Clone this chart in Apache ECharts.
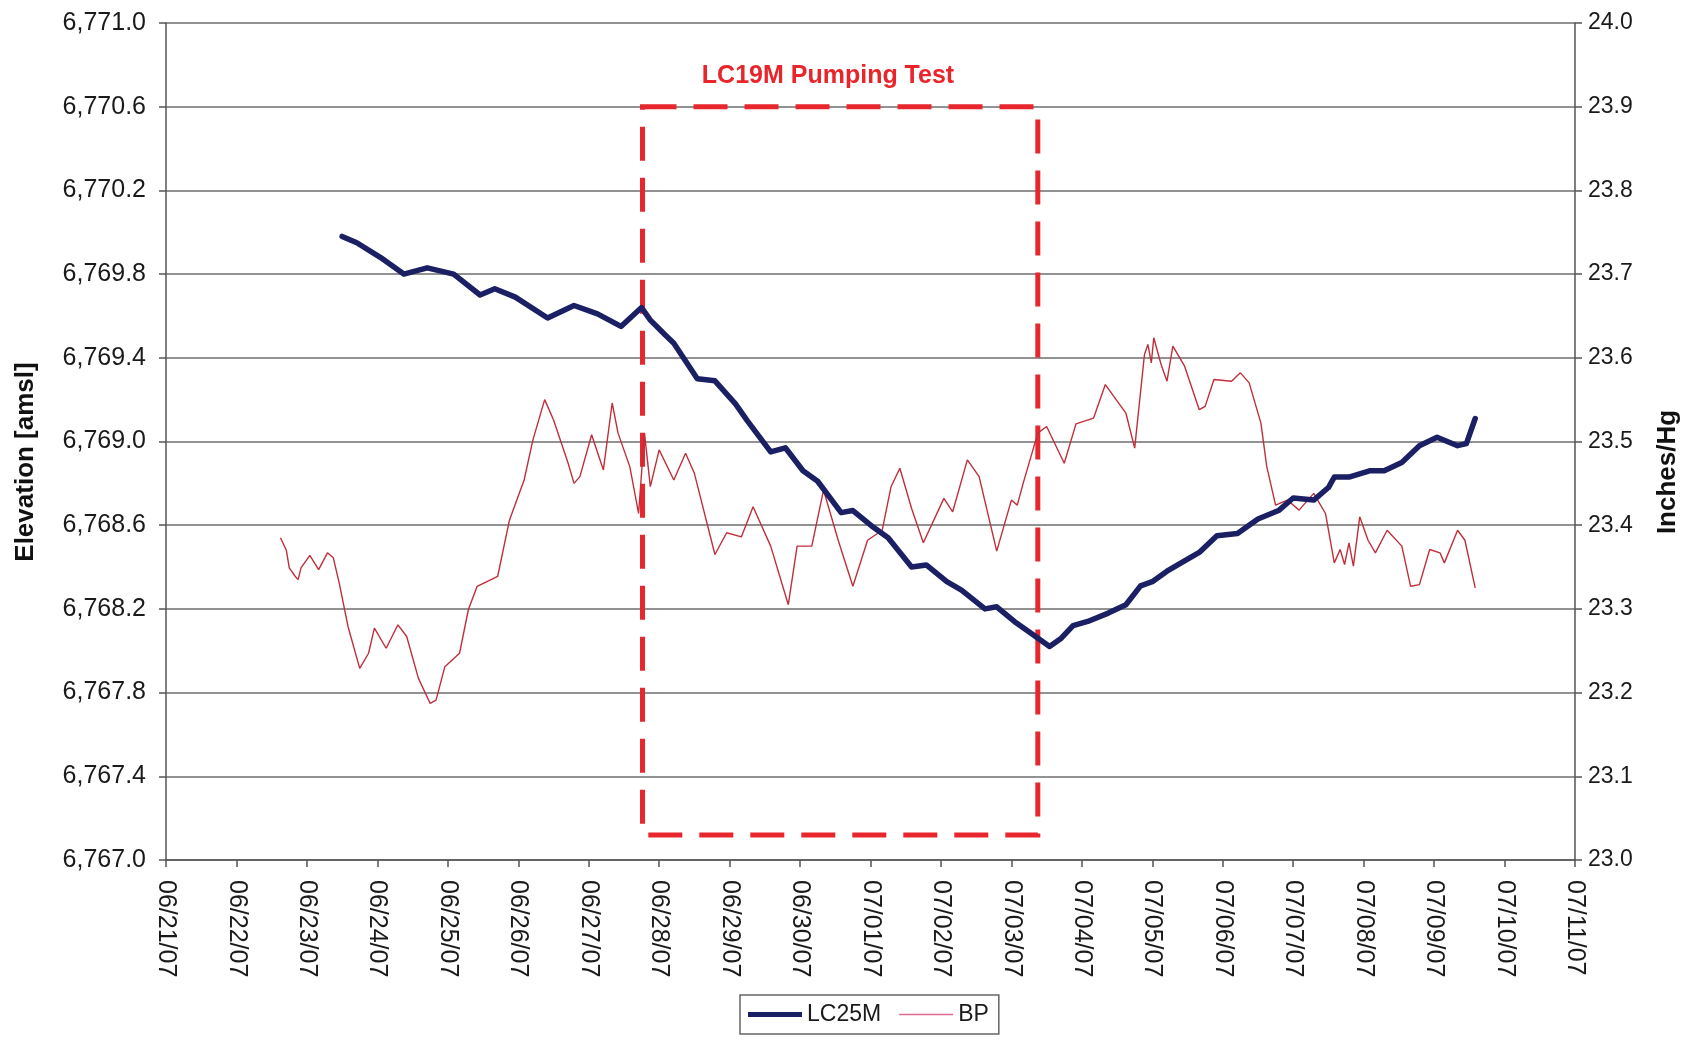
<!DOCTYPE html>
<html>
<head>
<meta charset="utf-8">
<title>LC25M and BP</title>
<script src="https://cdn.jsdelivr.net/npm/echarts@6/dist/echarts.min.js"></script>
<style>
  html, body { margin: 0; padding: 0; background: #fff; }
  #chart { width: 1684px; height: 1045px; }
</style>
</head>
<body>
<div id="chart"></div>
<script>
// LC25M water level elevation (ft amsl)
const lc25mTime = [
  '06/23 12:00', '06/23 17:00', '06/24 01:00', '06/24 09:00', '06/24 17:00',
  '06/25 02:00', '06/25 11:00', '06/25 16:00', '06/25 23:00', '06/26 10:00',
  '06/26 19:00', '06/27 03:00', '06/27 11:00', '06/27 18:00', '06/27 21:00',
  '06/28 02:00', '06/28 05:00', '06/28 13:00', '06/28 19:00', '06/29 02:00',
  '06/29 06:00', '06/29 14:00', '06/29 19:00', '06/30 01:00', '06/30 06:00',
  '06/30 14:00', '06/30 18:00', '07/01 01:00', '07/01 06:00', '07/01 14:00',
  '07/01 19:00', '07/02 02:00', '07/02 07:00', '07/02 15:00', '07/02 19:00',
  '07/03 01:00', '07/03 08:00', '07/03 13:00', '07/03 17:00', '07/03 21:00',
  '07/04 02:00', '07/04 09:00', '07/04 15:00', '07/04 20:00', '07/05 00:00',
  '07/05 05:00', '07/05 11:00', '07/05 16:00', '07/05 22:00', '07/06 05:00',
  '07/06 12:00', '07/06 19:00', '07/07 00:00', '07/07 07:00', '07/07 12:00',
  '07/07 14:00', '07/07 19:00', '07/08 02:00', '07/08 07:00', '07/08 13:00',
  '07/08 19:00', '07/09 01:00', '07/09 08:00', '07/09 11:00', '07/09 14:00'
];
const lc25mLevel = [
  6769.98, 6769.95, 6769.88, 6769.80, 6769.83,
  6769.80, 6769.70, 6769.73, 6769.69, 6769.59,
  6769.65, 6769.61, 6769.55, 6769.64, 6769.58,
  6769.51, 6769.47, 6769.30, 6769.29, 6769.18,
  6769.10, 6768.95, 6768.97, 6768.86, 6768.81,
  6768.66, 6768.67, 6768.59, 6768.54, 6768.40,
  6768.41, 6768.33, 6768.29, 6768.20, 6768.21,
  6768.14, 6768.07, 6768.02, 6768.06, 6768.12,
  6768.14, 6768.18, 6768.22, 6768.31, 6768.33,
  6768.38, 6768.43, 6768.47, 6768.55, 6768.56,
  6768.63, 6768.67, 6768.73, 6768.72, 6768.78,
  6768.83, 6768.83, 6768.86, 6768.86, 6768.90,
  6768.98, 6769.02, 6768.98, 6768.99, 6769.11
];

// barometric pressure (inches Hg)
const bpTime = [
  '06/22 15:00', '06/22 17:00', '06/22 18:00', '06/22 20:00', '06/22 21:00',
  '06/22 22:00', '06/23 01:00', '06/23 04:00', '06/23 07:00', '06/23 09:00',
  '06/23 11:00', '06/23 14:00', '06/23 18:00', '06/23 21:00', '06/23 23:00',
  '06/24 03:00', '06/24 07:00', '06/24 10:00', '06/24 14:00', '06/24 18:00',
  '06/24 20:00', '06/24 23:00', '06/25 04:00', '06/25 07:00', '06/25 10:00',
  '06/25 17:00', '06/25 21:00', '06/26 02:00', '06/26 05:00', '06/26 09:00',
  '06/26 12:00', '06/26 17:00', '06/26 19:00', '06/26 21:00', '06/27 01:00',
  '06/27 05:00', '06/27 08:00', '06/27 10:00', '06/27 14:00', '06/27 17:00',
  '06/27 19:00', '06/27 21:00', '06/28 00:00', '06/28 05:00', '06/28 09:00',
  '06/28 12:00', '06/28 19:00', '06/28 23:00', '06/29 04:00', '06/29 08:00',
  '06/29 14:00', '06/29 20:00', '06/29 23:00', '06/30 04:00', '06/30 08:00',
  '06/30 13:00', '06/30 18:00', '06/30 23:00', '07/01 04:00', '07/01 07:00',
  '07/01 10:00', '07/01 14:00', '07/01 18:00', '07/02 01:00', '07/02 04:00',
  '07/02 09:00', '07/02 13:00', '07/02 19:00', '07/03 00:00', '07/03 02:00',
  '07/03 04:00', '07/03 09:00', '07/03 12:00', '07/03 18:00', '07/03 22:00',
  '07/04 04:00', '07/04 08:00', '07/04 15:00', '07/04 18:00', '07/04 21:20',
  '07/04 22:30', '07/04 23:40', '07/05 00:30', '07/05 03:00', '07/05 05:00',
  '07/05 07:00', '07/05 11:00', '07/05 16:00', '07/05 18:00', '07/05 21:00',
  '07/06 03:00', '07/06 06:00', '07/06 09:00', '07/06 13:00', '07/06 15:00',
  '07/06 18:00', '07/06 22:00', '07/07 02:00', '07/07 07:00', '07/07 11:00',
  '07/07 14:00', '07/07 16:00', '07/07 17:30', '07/07 19:00', '07/07 20:30',
  '07/07 22:40', '07/08 01:30', '07/08 04:00', '07/08 08:00', '07/08 13:00',
  '07/08 16:00', '07/08 19:00', '07/08 22:30', '07/09 02:00', '07/09 03:30',
  '07/09 08:00', '07/09 10:30', '07/09 14:00'
];
const bpPressure = [
  23.385, 23.370, 23.349, 23.339, 23.335,
  23.349, 23.364, 23.347, 23.367, 23.361,
  23.331, 23.279, 23.229, 23.247, 23.277,
  23.253, 23.281, 23.267, 23.217, 23.187,
  23.191, 23.231, 23.247, 23.299, 23.327,
  23.339, 23.406, 23.454, 23.502, 23.550,
  23.526, 23.474, 23.450, 23.458, 23.508,
  23.466, 23.546, 23.510, 23.470, 23.414,
  23.510, 23.446, 23.490, 23.454, 23.486,
  23.462, 23.365, 23.391, 23.386, 23.422,
  23.375, 23.305, 23.375, 23.375, 23.442,
  23.382, 23.327, 23.382, 23.394, 23.446,
  23.468, 23.420, 23.379, 23.432, 23.416,
  23.478, 23.458, 23.369, 23.430, 23.424,
  23.450, 23.510, 23.518, 23.474, 23.521,
  23.528, 23.568, 23.534, 23.492, 23.604,
  23.616, 23.594, 23.624, 23.592, 23.572,
  23.614, 23.590, 23.538, 23.542, 23.574,
  23.572, 23.582, 23.570, 23.522, 23.470,
  23.424, 23.430, 23.418, 23.438, 23.414,
  23.355, 23.371, 23.353, 23.379, 23.351,
  23.410, 23.382, 23.367, 23.394, 23.375,
  23.327, 23.329, 23.371, 23.367, 23.355,
  23.394, 23.382, 23.325
];

// pumping test window (dashed box)
const testStart = '06/27 18:20';
const testEnd = '07/03 09:00';
const testTop = 6770.6;
const testBottom = 6767.12;

const elevMin = 6767.0, elevMax = 6771.0, elevStep = 0.4;
const bpMin = 23.0, bpMax = 24.0, bpStep = 0.1;
const DAY = 86400000;
const xStart = Date.UTC(2007, 5, 21);
const xEnd = Date.UTC(2007, 6, 11);

function toMs(s) {
  const [md, hm] = s.split(' ');
  const [mm, dd] = md.split('/').map(Number);
  const [hh, mi] = hm.split(':').map(Number);
  return Date.UTC(2007, mm - 1, dd, hh, mi);
}
function pad(n) { return (n < 10 ? '0' : '') + n; }

// elevation axis is plotted as offset above elevMin so ticks start at a multiple of the step
const lc25mData = lc25mTime.map((t, i) => [toMs(t), lc25mLevel[i] - elevMin]);
const bpData = bpTime.map((t, i) => [toMs(t), bpPressure[i]]);

const font = 'Liberation Sans, Arial, Helvetica, sans-serif';
const chart = echarts.init(document.getElementById('chart'));

chart.setOption({
  animation: false,
  backgroundColor: '#fff',
  textStyle: { fontFamily: font },
  grid: { left: 166, top: 23, right: 109, bottom: 185, containLabel: false, outerBoundsMode: 'none' },
  legend: {
    left: 740, top: 995,
    padding: [8, 10, 8, 8],
    borderColor: '#666', borderWidth: 1.5,
    itemWidth: 54, itemHeight: 14, itemGap: 18,
    textStyle: { fontSize: 23, color: '#1a1a1a', fontFamily: font },
    data: [
      { name: 'LC25M', icon: 'path://M0,0 L54,0 L54,5 L0,5 Z', itemStyle: { color: '#1b1f63' } },
      { name: 'BP', icon: 'path://M0,0 L54,0 L54,1.3 L0,1.3 Z', itemStyle: { color: '#dc6a8e' } }
    ]
  },
  xAxis: {
    type: 'value',
    min: xStart, max: xEnd, interval: DAY,
    axisLine: { show: true, lineStyle: { color: '#555', width: 1.5 } },
    axisTick: { show: true, inside: false, length: 7, lineStyle: { color: '#555', width: 1.5 } },
    splitLine: { show: false },
    axisLabel: {
      rotate: -90, margin: 20, fontSize: 25, color: '#1a1a1a', fontFamily: font,
      formatter: function (v) {
        const d = new Date(v);
        return pad(d.getUTCMonth() + 1) + '/' + pad(d.getUTCDate()) + '/' + String(d.getUTCFullYear()).slice(2);
      }
    }
  },
  yAxis: [
    {
      type: 'value', position: 'left',
      min: 0, max: elevMax - elevMin, interval: elevStep,
      axisLine: { show: true, lineStyle: { color: '#555', width: 1.5 } },
      axisTick: { show: true, inside: false, length: 7, lineStyle: { color: '#555', width: 1.5 } },
      splitLine: { show: true, lineStyle: { color: '#6e6e6e', width: 1.5 } },
      axisLabel: {
        margin: 20, fontSize: 25, color: '#1a1a1a', fontFamily: font,
        formatter: function (v) {
          const s = (elevMin + v).toFixed(1);
          return s.slice(0, 1) + ',' + s.slice(1);
        }
      }
    },
    {
      type: 'value', position: 'right',
      min: bpMin, max: bpMax, interval: bpStep,
      axisLine: { show: true, lineStyle: { color: '#555', width: 1.5 } },
      axisTick: { show: true, inside: false, length: 7, lineStyle: { color: '#555', width: 1.5 } },
      splitLine: { show: false },
      axisLabel: {
        margin: 13, fontSize: 23, color: '#1a1a1a', fontFamily: font,
        formatter: function (v) { return v.toFixed(1); }
      }
    }
  ],
  graphic: [
    {
      type: 'text', x: 26, y: 462, rotation: Math.PI / 2,
      style: { text: 'Elevation [amsl]', font: 'bold 26px ' + font, fill: '#111', textAlign: 'center', textVerticalAlign: 'middle' }
    },
    {
      type: 'text', x: 1668, y: 472, rotation: Math.PI / 2,
      style: { text: 'Inches/Hg', font: 'bold 26px ' + font, fill: '#111', textAlign: 'center', textVerticalAlign: 'middle' }
    },
    {
      type: 'text', x: 828, y: 76,
      style: { text: 'LC19M Pumping Test', font: 'bold 25px ' + font, fill: '#e8252b', textAlign: 'center', textVerticalAlign: 'middle' }
    }
  ],
  series: [
    {
      name: 'LC25M', type: 'line', yAxisIndex: 0, z: 3,
      data: lc25mData,
      symbol: 'none',
      lineStyle: { color: '#1b1f63', width: 5.5, cap: 'round', join: 'round' },
      itemStyle: { color: '#1b1f63' },
      markArea: {
        silent: true,
        itemStyle: {
          color: 'rgba(0,0,0,0)',
          borderColor: '#e8262e', borderWidth: 5, borderType: [34, 17]
        },
        data: [[
          { coord: [toMs(testStart), testTop - elevMin] },
          { coord: [toMs(testEnd), testBottom - elevMin] }
        ]]
      }
    },
    {
      name: 'BP', type: 'line', yAxisIndex: 1, z: 2,
      data: bpData,
      symbol: 'none',
      lineStyle: { color: '#bf2f3b', width: 1.4 },
      itemStyle: { color: '#bf2f3b' }
    }
  ]
});
</script>
</body>
</html>
